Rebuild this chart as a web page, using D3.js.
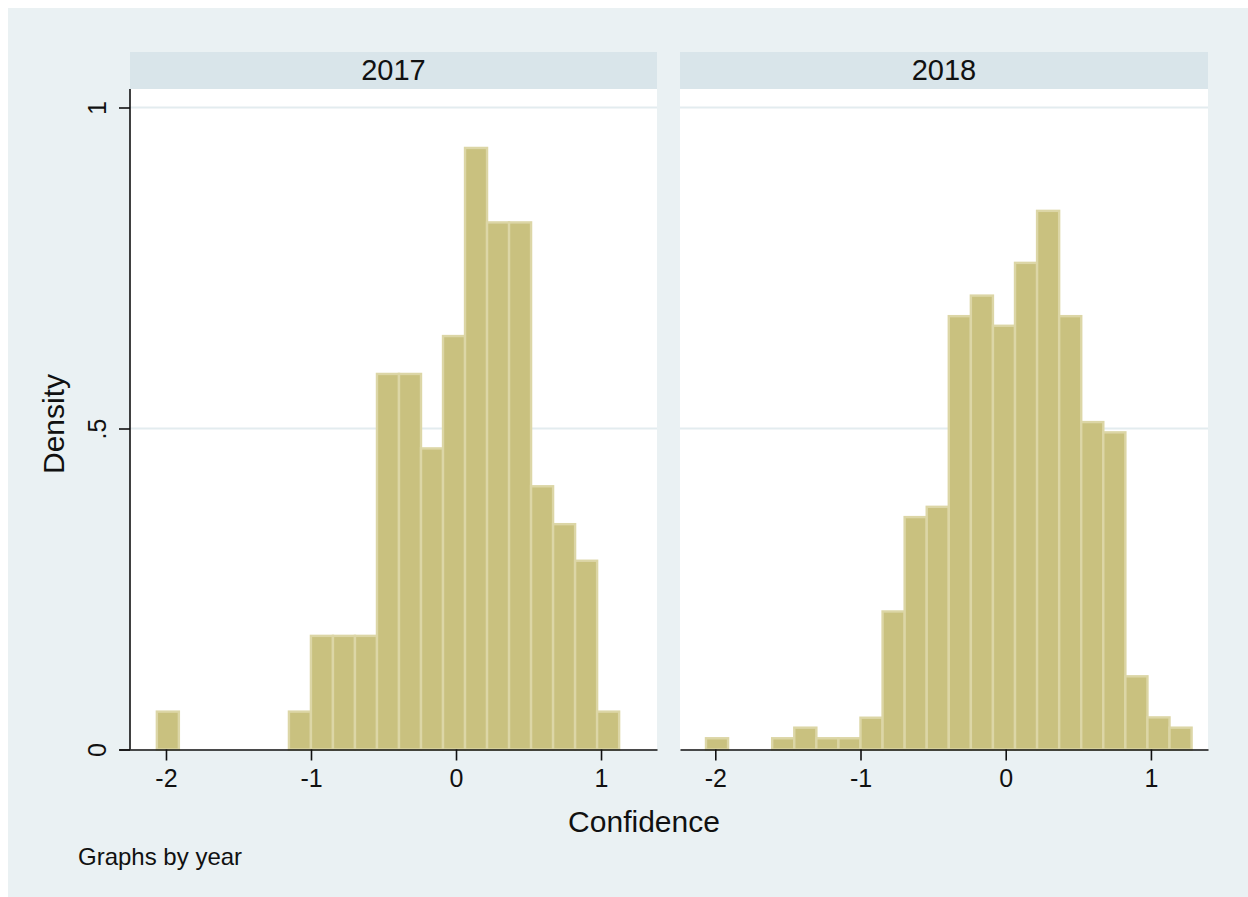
<!DOCTYPE html>
<html>
<head>
<meta charset="utf-8">
<script src="https://cdn.jsdelivr.net/npm/d3@7"></script>
<style>
  html, body { margin: 0; padding: 0; background: #ffffff; }
  svg { display: block; }
  text { font-family: "Liberation Sans", Arial, sans-serif; fill: #111; }
</style>
</head>
<body>
<svg id="chart" width="1248" height="897"></svg>
<script>
// Histogram densities of Confidence, one panel per year
const years = ["2017", "2018"];

const binStart2017 = -2.063;
const binWidth2017 = 0.1518;
const density2017 = [0.059, 0, 0, 0, 0, 0, 0.059, 0.177, 0.177, 0.177,
                     0.585, 0.585, 0.469, 0.644, 0.937, 0.821, 0.821,
                     0.410, 0.351, 0.294, 0.059];

const binStart2018 = -2.064;
const binWidth2018 = 0.1520;
const density2018 = [0.0175, 0, 0, 0.0175, 0.034, 0.0175, 0.0175, 0.0495,
                     0.215, 0.362, 0.378, 0.675, 0.707, 0.660, 0.758,
                     0.839, 0.675, 0.510, 0.494, 0.114, 0.050, 0.034];

const xTicks = [-2, -1, 0, 1];
const yTicks = [0, 0.5, 1];
const yTickLabels = ["0", ".5", "1"];

const xTitle = "Confidence";
const yTitle = "Density";
const note = "Graphs by year";

const svg = d3.select("#chart");

// graph region background
svg.append("rect").attr("x", 8).attr("y", 8).attr("width", 1240).attr("height", 889)
  .attr("fill", "#eaf1f3");

const panels = [
  { label: years[0], start: binStart2017, width: binWidth2017, dens: density2017,
    left: 130, right: 657, axisLeft: 119, xDomain: [-2.324, 1.386], yAxis: true },
  { label: years[1], start: binStart2018, width: binWidth2018, dens: density2018,
    left: 680, right: 1208, axisLeft: 680, xDomain: [-2.243, 1.393], yAxis: false }
];

const plotTop = 89, plotBottom = 749.5, stripTop = 52;
const y = d3.scaleLinear().domain([0, 1]).range([749.5, 107.5]);

panels.forEach(p => {
  const g = svg.append("g");
  const x = d3.scaleLinear().domain(p.xDomain).range([p.axisLeft, p.right]);

  // strip with year label
  g.append("rect").attr("x", p.left).attr("y", stripTop)
    .attr("width", p.right - p.left).attr("height", plotTop - stripTop)
    .attr("fill", "#d9e5ea");
  g.append("text").attr("x", (p.left + p.right) / 2).attr("y", 80)
    .attr("text-anchor", "middle").attr("font-size", 29).text(p.label);

  // plot region
  g.append("rect").attr("x", p.left).attr("y", plotTop)
    .attr("width", p.right - p.left).attr("height", plotBottom - plotTop)
    .attr("fill", "#ffffff");

  // horizontal grid lines
  g.selectAll("line.grid").data(yTicks.filter(v => v > 0)).join("line")
    .attr("class", "grid")
    .attr("x1", p.left).attr("x2", p.right)
    .attr("y1", d => y(d)).attr("y2", d => y(d))
    .attr("stroke", "#e3ecef").attr("stroke-width", 2);

  // bars
  const bins = p.dens.map((d, i) => ({ x0: p.start + i * p.width, x1: p.start + (i + 1) * p.width, d }))
    .filter(b => b.d > 0);
  g.selectAll("rect.bar").data(bins).join("rect")
    .attr("class", "bar")
    .attr("x", b => x(b.x0)).attr("width", b => x(b.x1) - x(b.x0))
    .attr("y", b => y(b.d)).attr("height", b => y(0) - y(b.d))
    .attr("fill", "#c9c17f")
    .attr("stroke", "#dcd6a6").attr("stroke-width", 2.4);

  // x axis
  const xAxis = d3.axisBottom(x).tickValues(xTicks).tickSize(11).tickSizeOuter(0).tickPadding(9)
    .tickFormat(d => d < 0 ? "-" + Math.abs(d) : String(d));
  const ax = g.append("g").attr("transform", `translate(0,${plotBottom})`).call(xAxis);
  ax.select(".domain").attr("stroke", "#111").attr("stroke-width", 1.6);
  ax.selectAll(".tick line").attr("stroke", "#111").attr("stroke-width", 1.6);
  ax.selectAll(".tick text").attr("font-size", 25).attr("fill", "#111")
    .attr("font-family", "Liberation Sans, Arial, sans-serif");

  if (p.yAxis) {
    const yAxis = d3.axisLeft(y).tickValues(yTicks).tickSize(11).tickSizeOuter(0)
      .tickFormat((d, i) => yTickLabels[i]);
    const ay = g.append("g").attr("transform", `translate(${p.left},0)`).call(yAxis);
    ay.select(".domain").attr("d", `M0,${plotTop}V${plotBottom}`)
      .attr("stroke", "#111").attr("stroke-width", 1.6);
    ay.selectAll(".tick line").attr("stroke", "#111").attr("stroke-width", 1.6);
    ay.selectAll(".tick text")
      .attr("font-size", 25).attr("fill", "#111")
      .attr("font-family", "Liberation Sans, Arial, sans-serif")
      .attr("text-anchor", "middle").attr("dy", 0)
      .attr("x", 0).attr("y", 0)
      .attr("transform", "translate(-24,0) rotate(-90)");
  }
});

// axis titles and note
svg.append("text").attr("x", 644).attr("y", 832).attr("text-anchor", "middle")
  .attr("font-size", 30).text(xTitle);
svg.append("text").attr("transform", "translate(64,424) rotate(-90)")
  .attr("text-anchor", "middle").attr("font-size", 30).text(yTitle);
svg.append("text").attr("x", 78).attr("y", 865).attr("font-size", 24).text(note);
</script>
</body>
</html>
